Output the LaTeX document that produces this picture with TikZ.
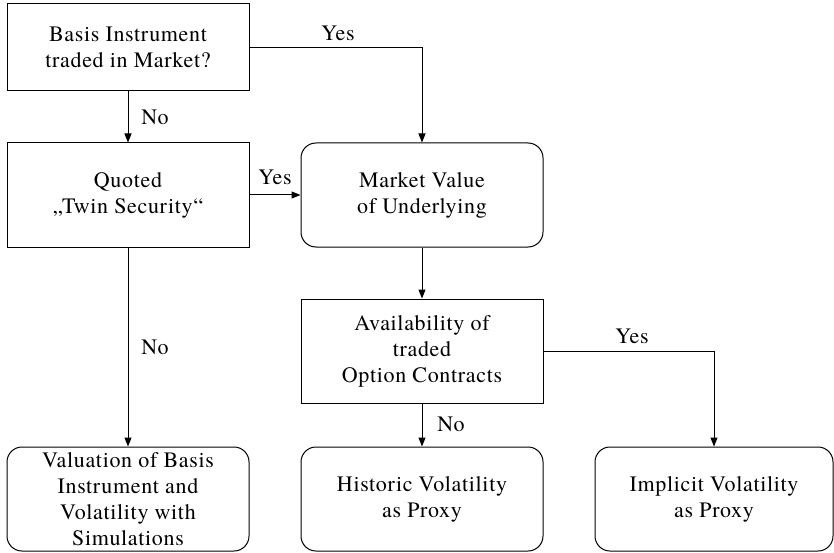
\documentclass[tikz,border=0pt]{standalone}
\usepackage{fontspec}
\setmainfont{texgyretermes}[Extension=.otf, UprightFont=*-regular, BoldFont=*-bold, LetterSpace=3]
\usetikzlibrary{arrows.meta}
\begin{document}
\begin{tikzpicture}[x=1pt,y=-1pt,
  font=\fontsize{22}{26}\selectfont,
  box/.style={draw, line width=1pt, minimum width=242pt, align=center, inner sep=0pt},
  sqbox/.style={box},
  rbox/.style={box, rounded corners=15pt},
  arr/.style={line width=1pt, -{Triangle[length=9pt,width=7pt]}},
  lbl/.style={inner sep=0pt}]
\useasboundingbox (0,0) rectangle (834,553);
% decision and result boxes
\node[sqbox, minimum height=87pt]  (q1) at (128,47.5) {Basis Instrument\\traded in Market?};
\node[sqbox, minimum height=104pt] (q2) at (128,195)  {Quoted\\„Twin Security“};
\node[rbox,  minimum height=104pt] (mv) at (422,195)  {Market Value\\of Underlying};
\node[sqbox, minimum height=104pt] (q3) at (422,351)  {Availability of\\traded\\Option Contracts};
\node[rbox,  minimum height=104pt] (r1) at (128,499)  {Valuation of Basis\\Instrument and\\Volatility with\\Simulations};
\node[rbox,  minimum height=104pt] (r2) at (422,499)  {Historic Volatility\\as Proxy};
\node[rbox,  minimum height=104pt, minimum width=238pt] (r3) at (714,499) {Implicit Volatility\\as Proxy};
% connectors
\draw[arr] (q1.east) -| (mv.north);
\draw[arr] (q1.south) -- (q2.north);
\draw[arr] (q2.east) -- (mv.west);
\draw[arr] (q2.south) -- (r1.north);
\draw[arr] (mv.south) -- (q3.north);
\draw[arr] (q3.south) -- (r2.north);
\draw[arr] (q3.east) -| (r3.north);
% branch labels
\node[lbl] (y1) at (338,33)  {Yes};
\node[lbl] (n1) at (155,117) {No};
\node[lbl] (y2) at (275,177) {Yes};
\node[lbl] (n2) at (155,347) {No};
\node[lbl] (n3) at (451,424) {No};
\node[lbl] (y3) at (632,336) {Yes};
\end{tikzpicture}
\end{document}
